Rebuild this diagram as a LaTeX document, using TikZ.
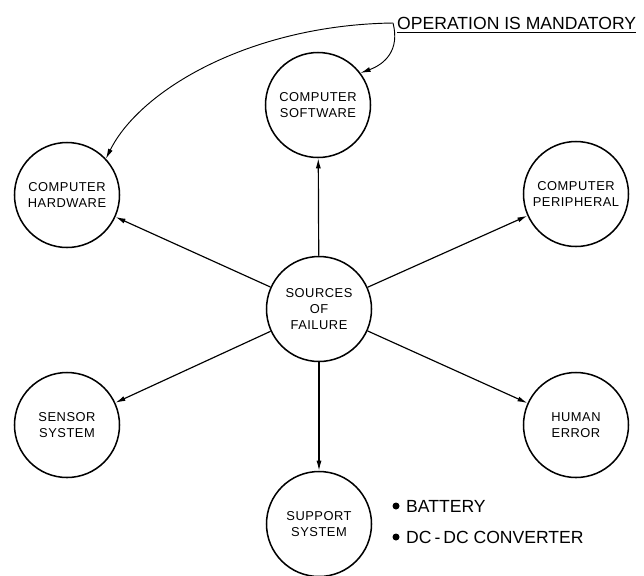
\documentclass[tikz,border=0pt]{standalone}
\usepackage{fontspec}
\setmainfont{Liberation Sans}
\usetikzlibrary{arrows.meta}
\tikzset{
  cause/.style={draw, circle, line width=1.3pt, minimum size=3.15cm, inner sep=0pt,
    align=center, font=\fontsize{11}{14}\selectfont\addfontfeatures{LetterSpace=4}},
  arr/.style={line width=1pt, -{Latex[length=3mm,width=1.5mm]}},
  dot/.style={circle, fill=black, inner sep=0pt, minimum size=0.21cm},
  note/.style={font=\fontsize{15}{18}\selectfont}
}

\begin{document}
\begin{tikzpicture}[x=0.03cm, y=-0.03cm]
  \useasboundingbox (0,0) rectangle (644,575);
  %%%%% circles
  \node[cause] (src) at (319,309) {SOURCES\\OF\\FAILURE};
  \node[cause] (sw) at (318,105) {COMPUTER\\SOFTWARE};
  \node[cause] (hw) at (67,195) {COMPUTER\\HARDWARE};
  \node[cause] (per) at (576,194) {COMPUTER\\PERIPHERAL};
  \node[cause] (sen) at (67,425) {SENSOR\\SYSTEM};
  \node[cause] (hum) at (576,425) {HUMAN\\ERROR};
  \node[cause] (sup) at (319,524) {SUPPORT\\SYSTEM};

  %%%%% spokes
  \foreach \t in {sw,hw,per,sen,hum,sup}
    \draw[arr] (src) -- (\t);

  %%%%% note
  \node[note, anchor=base west, inner sep=0pt] (op) at (397,29) {OPERATION IS MANDATORY};
  \draw[line width=0.8pt] ([yshift=-3pt]op.base west) -- ([yshift=-3pt]op.base east);
  \coordinate (opL) at (393,23);
  \draw[arr, line width=0.8pt] (opL) .. controls (250,25) and (140,90) .. (hw.43);
  \draw[arr, line width=0.8pt] (opL) .. controls (400,50) and (385,64) .. (sw.37);

  %%%%% support items
  \node[dot] (d1) at (396,506) {};
  \node[dot] (d2) at (396,537) {};
  \node[note, anchor=west, inner sep=0pt] (bat) at (406,506) {BATTERY};
  \node[note, anchor=west, inner sep=0pt] (dc) at (406,537) {DC\,-\,DC CONVERTER};
\end{tikzpicture}
\end{document}
